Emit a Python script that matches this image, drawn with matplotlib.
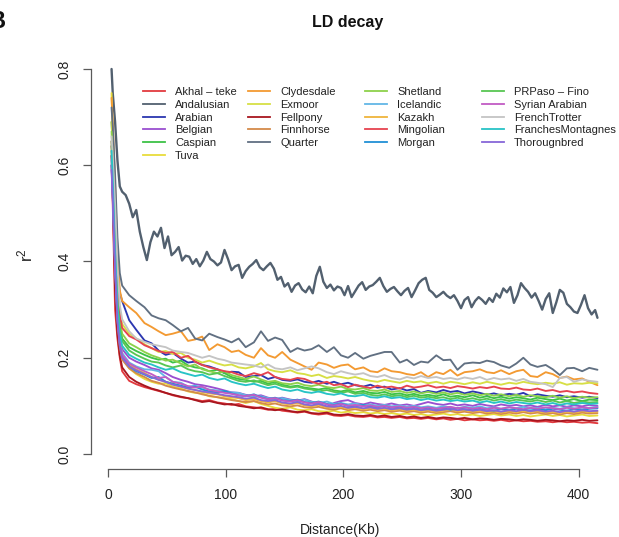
import matplotlib
matplotlib.use('Agg')
import matplotlib.pyplot as plt
import numpy as np
from matplotlib.lines import Line2D

plt.rcParams['font.family'] = ['Liberation Sans', 'DejaVu Sans']
plt.rcParams['mathtext.fontset'] = 'custom'
plt.rcParams['mathtext.rm'] = 'Liberation Sans'
plt.rcParams['mathtext.it'] = 'Liberation Sans:italic'

# Distance grid (Kb) shared by most breeds
distance_kb = [3, 4, 6, 8, 10, 12,
               18, 24, 31, 37, 43, 49, 55, 62, 68, 74, 80, 86, 93, 99, 105, 111, 117, 124, 130, 136,
               142, 148, 155, 161, 167, 173, 179, 186, 192, 198, 204, 210, 217, 223, 229, 235, 241, 248, 254, 260,
               266, 272, 279, 285, 291, 297, 303, 310, 316, 322, 328, 334, 341, 347, 353, 359, 365, 372, 378, 384,
               390, 396, 403, 409, 416]

# Finer distance grid (Kb) for the Andalusian curve
andalusian_kb = [3, 4, 6, 8, 10, 12, 15,
                 18, 21, 24, 27, 30, 33, 36, 39, 42, 45, 48, 51, 54, 57, 60, 63, 66, 69, 72, 75,
                 78, 81, 84, 87, 90, 93, 96, 99, 102, 105, 108, 111, 114, 117, 120, 123, 126, 129, 132, 135,
                 138, 141, 144, 147, 150, 153, 156, 159, 162, 165, 168, 171, 174, 177, 180, 183, 186, 189, 192, 195,
                 198, 201, 204, 207, 210, 213, 216, 219, 222, 225, 228, 231, 234, 237, 240, 243, 246, 249, 252, 255,
                 258, 261, 264, 267, 270, 273, 276, 279, 282, 285, 288, 291, 294, 297, 300, 303, 306, 309, 312, 315,
                 318, 321, 324, 327, 330, 333, 336, 339, 342, 345, 348, 351, 354, 357, 360, 363, 366, 369, 372, 375,
                 378, 381, 384, 387, 390, 393, 396, 399, 402, 405, 408, 411, 414, 416]

# r^2 values, in thousandths
andalusian = [800, 750, 690, 610, 556, 545, 538,
              520, 492, 507, 462, 430, 403, 440, 462, 452, 470,
              428, 452, 413, 420, 430, 402, 412, 410, 395, 405,
              390, 402, 420, 405, 400, 392, 398, 424, 405, 382,
              390, 393, 366, 380, 389, 395, 403, 388, 382, 390,
              397, 385, 362, 368, 348, 355, 337, 350, 355, 342,
              336, 348, 334, 370, 389, 358, 345, 352, 340, 348,
              345, 330, 349, 326, 338, 350, 357, 341, 348, 351,
              358, 366, 349, 337, 343, 347, 338, 330, 339, 345,
              326, 340, 355, 362, 366, 341, 335, 326, 331, 337,
              329, 324, 330, 318, 303, 320, 326, 305, 318, 326,
              320, 312, 324, 316, 333, 325, 344, 336, 347, 314,
              330, 355, 345, 337, 325, 334, 318, 300, 322, 334,
              293, 315, 341, 335, 312, 305, 296, 293, 310, 330,
              303, 290, 299, 283]
akhal_teke = [600, 520, 300, 240, 200, 172,
              152,145,139,135,131,127,122,118,116,113,110,112,107,105,102,104,99,97,95,92,94,90,88,86,88,84,82,84,80,79,
              81,78,77,79,76,77,75,77,74,75,73,75,72,74,71,73,70,72,70,71,69,71,68,70,68,69,67,68,66,68,66,67,65,66,64]
arabian = [640, 590, 470, 380, 335, 318,
           278,258,236,230,215,206,210,198,190,192,185,182,176,168,171,170,160,162,164,156,160,154,152,155,150,148,152,
           146,150,145,148,143,140,144,138,140,134,137,132,135,127,131,128,133,129,131,126,130,127,123,126,122,125,123,
           127,120,124,121,119,122,118,120,117,119,116]
belgian = [620, 560, 410, 300, 245, 218,
           200,192,185,178,175,168,160,154,150,145,143,140,136,132,128,127,123,120,122,117,114,117,113,111,114,109,104,
           98,106,110,112,106,103,107,104,102,105,101,103,100,104,108,104,102,105,101,103,100,104,101,99,103,100,102,99,
           101,98,102,99,101,98,101,99,102,100]
caspian = [690, 630, 470, 340, 270, 240,
           222,214,206,200,196,198,190,194,184,180,178,172,175,168,160,156,154,150,152,146,150,144,140,142,138,136,134,
           137,132,130,133,128,131,127,126,129,124,126,122,125,121,123,120,124,119,121,118,122,117,120,116,119,115,118,
           116,113,117,114,112,115,111,114,110,113,112]
tuva = [750, 660, 420, 290, 228, 200,
        178,166,156,150,146,147,140,136,130,127,126,120,118,116,114,110,106,110,104,100,96,94,97,92,91,93,89,88,90,86,
        88,85,87,84,86,83,85,82,84,81,83,80,82,84,81,83,80,82,79,81,83,80,82,79,81,78,80,82,79,81,78,80,82,79,80]
clydesdale = [740, 690, 560, 420, 340, 318,
              305,293,272,264,255,247,250,255,235,238,244,216,228,222,212,215,206,200,220,205,200,212,196,189,182,175,
              190,186,179,184,186,176,180,172,170,178,172,170,166,164,170,160,170,166,175,163,170,172,176,170,168,174,
              166,172,175,162,160,170,166,158,161,155,157,150,143]
exmoor = [690, 640, 500, 370, 300, 270,
          250,240,228,220,212,214,208,210,200,196,190,194,188,184,186,180,178,182,189,176,172,170,174,168,166,162,165,
          158,162,160,157,160,155,152,150,154,151,148,152,149,151,147,150,146,150,148,145,149,146,150,147,144,148,146,
          150,147,145,148,146,149,144,147,146,148,147]
fellpony = [620, 540, 340, 250, 205, 180,
            160,150,142,136,132,127,123,119,116,112,108,110,106,103,104,100,98,95,97,93,91,93,89,87,89,85,84,86,82,81,
            83,80,79,81,78,80,77,79,76,78,75,77,74,76,75,73,75,72,74,73,71,73,72,70,72,71,69,71,70,68,70,69,71,69,70]
finnhorse = [630, 560, 390, 280, 222, 196,
             178,168,160,152,148,142,138,134,131,128,124,121,118,115,112,110,108,110,106,103,105,101,99,101,97,96,98,
             94,92,95,91,93,90,92,89,91,88,90,87,89,86,88,85,87,89,86,88,85,87,84,86,83,86,84,87,84,86,83,85,82,85,83,
             86,84,85]
quarter = [720, 680, 580, 450, 376, 350,
           330,318,305,288,282,278,268,255,262,240,236,250,243,238,232,240,222,232,255,235,242,237,212,220,215,218,226,
           212,222,205,200,210,198,204,208,212,212,190,196,185,192,190,205,195,196,175,188,190,189,194,191,184,179,188,
           200,186,181,185,176,164,178,179,172,179,175]
shetland = [670, 610, 460, 345, 280, 250,
            230,222,212,205,200,194,196,188,182,186,176,172,168,172,164,160,156,161,155,150,152,147,145,148,143,141,
            144,139,137,140,135,134,137,132,131,134,129,131,127,130,126,129,125,128,124,127,123,126,122,125,121,124,
            120,123,119,122,120,118,121,117,120,116,119,117,118]
icelandic = [610, 550, 400, 290, 235, 210,
             190,182,176,175,172,160,150,148,140,142,138,134,132,130,128,127,122,118,120,116,114,116,112,110,113,108,
             106,109,104,106,103,105,101,103,100,102,99,101,98,100,97,99,96,99,97,95,98,96,99,95,97,94,97,95,98,94,96,
             93,96,94,97,95,93,96,98]
kazakh = [640, 570, 400, 290, 230, 204,
          186,176,168,160,155,150,146,140,136,133,129,126,124,120,118,116,112,114,110,107,110,105,103,106,101,99,102,
          97,96,98,94,96,93,95,92,94,91,93,90,92,89,91,88,90,92,89,91,88,90,87,89,86,89,87,90,87,89,86,88,85,88,86,89,
          87,88]
mingolian = [650, 600, 470, 350, 290, 262,
             245,238,226,220,214,210,212,200,204,192,185,180,176,172,170,165,162,168,164,170,160,156,154,158,156,150,
             146,150,143,145,139,144,140,137,142,138,140,136,142,138,140,143,138,140,137,141,139,136,139,137,140,136,
             135,138,134,133,136,131,133,129,131,128,130,127,125]
morgan = [600, 540, 390, 280, 228, 202,
          182,172,165,158,160,150,146,142,138,140,134,130,128,131,126,122,120,124,118,114,117,112,110,113,108,106,109,
          104,102,105,100,99,102,98,97,100,96,98,95,97,94,96,93,95,92,95,93,91,94,92,90,93,91,94,92,90,93,91,94,92,90,
          93,91,94,95]
prpaso_fino = [650, 590, 440, 320, 262, 235,
               215,206,198,192,190,184,180,184,176,172,170,165,168,162,157,152,150,153,148,143,146,141,138,140,136,134,
               130,133,129,127,130,125,127,123,121,124,120,122,118,121,117,119,116,118,114,117,113,116,112,115,111,114,
               110,113,111,109,112,108,111,107,110,106,109,107,108]
syrian_arabian = [600, 540, 395, 285, 232, 206,
                  188,180,172,166,158,160,150,146,141,138,140,133,130,127,125,122,120,123,117,114,116,111,109,112,107,
                  105,108,103,101,104,100,102,99,101,98,100,97,99,96,98,95,97,94,96,98,95,97,94,96,93,96,94,97,95,93,
                  96,94,97,95,93,96,94,97,95,97]
french_trotter = [660, 620, 520, 390, 310, 280,
                  255,240,233,228,225,222,215,212,210,205,200,204,198,195,190,188,186,184,180,186,178,176,180,174,178,
                  182,178,170,166,172,168,165,168,162,160,164,158,155,160,157,162,158,160,156,158,155,159,156,160,154,
                  158,155,157,152,156,150,148,145,139,158,160,150,155,152,150]
franches_montagnes = [630, 570, 420, 305, 250, 225,
                      206,198,190,186,180,175,178,170,166,162,165,158,154,157,150,146,143,146,141,137,140,134,131,134,
                      129,127,130,125,123,126,121,120,123,118,117,120,116,118,114,116,112,115,111,113,110,112,109,111,
                      107,110,106,109,105,108,106,104,107,103,106,102,105,103,106,104,105]
thorougnbred = [590, 530, 385, 275, 225, 200,
                182,174,166,160,154,150,144,140,136,133,130,128,125,122,120,118,115,117,112,110,112,107,105,108,103,101,
                104,99,98,100,96,98,95,97,94,96,93,95,92,94,91,93,90,92,94,91,93,90,92,89,91,88,91,89,92,89,91,88,90,87,
                90,88,91,89,90]

labels = ['Akhal \u2013 teke', 'Andalusian', 'Arabian', 'Belgian', 'Caspian', 'Tuva',
          'Clydesdale', 'Exmoor', 'Fellpony', 'Finnhorse', 'Quarter',
          'Shetland', 'Icelandic', 'Kazakh', 'Mingolian', 'Morgan',
          'PRPaso \u2013 Fino', 'Syrian Arabian', 'FrenchTrotter', 'FranchesMontagnes', 'Thorougnbred']
series = [akhal_teke, andalusian, arabian, belgian, caspian, tuva,
          clydesdale, exmoor, fellpony, finnhorse, quarter,
          shetland, icelandic, kazakh, mingolian, morgan,
          prpaso_fino, syrian_arabian, french_trotter, franches_montagnes, thorougnbred]
colors = ['#e23a3f', '#52606f', '#2b37b0', '#9a4fd0', '#3dc247', '#e8dc3c',
          '#f39a32', '#d7df45', '#a8161f', '#d48a4a', '#617082',
          '#8dd14b', '#62b6e6', '#efb43c', '#e6434f', '#2190d6',
          '#58c653', '#c25cc4', '#c4c4c4', '#28c3c6', '#8767d8']

W, H = 619, 537
fig = plt.figure(figsize=(W / 100, H / 100), dpi=100)

def fx(px):
    return px / W

def fy(py):
    return 1 - py / H

left_px, right_px, top_px, bottom_px = 90.5, 617, 53.6, 469.4
ax = fig.add_axes([fx(left_px), fy(bottom_px), (right_px - left_px) / W, (bottom_px - top_px) / H])

for lab, vals, col in zip(labels, series, colors):
    xs = andalusian_kb if lab == 'Andalusian' else distance_kb
    lw = 1.7 if lab == 'Andalusian' else 1.35
    ax.plot(np.array(xs, dtype=float), np.array(vals) / 1000.0, color=col, lw=lw,
            solid_joinstyle='round', solid_capstyle='round')

ax.set_xlim(-14.9, 432.6)
ax.set_ylim(-0.032, 0.832)

axis_col = '#5a5a5a'
for s in ['top', 'right']:
    ax.spines[s].set_visible(False)
ax.spines['left'].set_bounds(0, 0.8)
ax.spines['bottom'].set_bounds(0, 400)
for s in ['left', 'bottom']:
    ax.spines[s].set_color(axis_col)
    ax.spines[s].set_linewidth(0.9)

ax.set_xticks([0, 100, 200, 300, 400])
ax.set_yticks([0.0, 0.2, 0.4, 0.6, 0.8])
ax.set_yticklabels(['0.0', '0.2', '0.4', '0.6', '0.8'])
ax.tick_params(axis='both', direction='out', length=5.5, width=0.9, color=axis_col,
               labelsize=10, labelcolor='#222222', pad=8)
ax.tick_params(axis='y', labelrotation=90)
for t in ax.get_yticklabels():
    t.set_va('center')

ax.set_xlabel('Distance(Kb)', fontsize=10, color='#222222')
ax.xaxis.set_label_coords((340 - left_px) / (right_px - left_px), (bottom_px - 530) / (bottom_px - top_px))
ax.xaxis.label.set_va('center')
ax.set_ylabel(r'$\mathregular{r^2}$', fontsize=12, color='#222222')
ax.yaxis.set_label_coords((25 - left_px) / (right_px - left_px), (bottom_px - 255) / (bottom_px - top_px))
ax.yaxis.label.set_va('center')

fig.text(fx(348), fy(22), 'LD decay', fontsize=11.5, fontweight='bold', ha='center', va='center', color='#111111')
fig.text(fx(5), fy(21), 'B', fontsize=17, fontweight='bold', ha='right', va='center', color='#111111')

# legend: four columns
col_groups = [range(0, 6), range(6, 11), range(11, 16), range(16, 21)]
col_x = [143, 248, 365, 482]
for grp, cx in zip(col_groups, col_x):
    handles = [Line2D([], [], color=colors[i], lw=1.3) for i in grp]
    labs = [labels[i] for i in grp]
    leg = fig.legend(handles, labs, loc='upper left', bbox_to_anchor=(fx(cx), fy(87)),
                     frameon=False, fontsize=8, handlelength=2.0, handletextpad=0.9,
                     labelspacing=0.25, borderpad=0, borderaxespad=0)
    for t in leg.get_texts():
        t.set_color('#222222')

fig.savefig('out.png', dpi=100)
